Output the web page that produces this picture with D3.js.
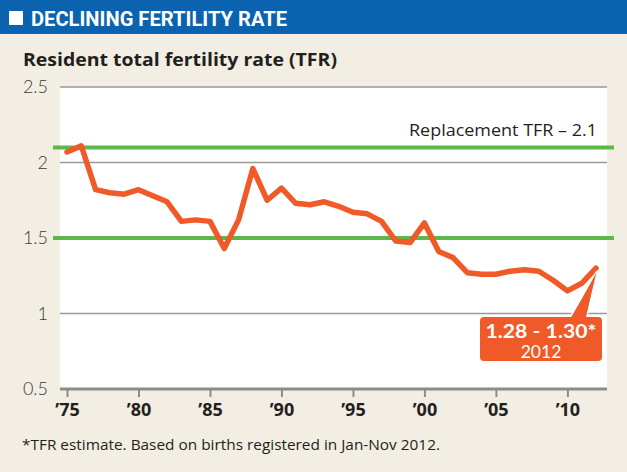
<!DOCTYPE html>
<html><head><meta charset="utf-8">
<script src="https://cdn.jsdelivr.net/npm/d3@7/dist/d3.min.js"></script>
<style>
html,body{margin:0;padding:0;background:#f2eee4;}
svg{display:block;}
</style></head>
<body>
<svg id="chart" width="627" height="472"></svg>
<script>
const years = [1975,1976,1977,1978,1979,1980,1981,1982,1983,1984,1985,1986,1987,1988,1989,1990,1991,1992,1993,1994,1995,1996,1997,1998,1999,2000,2001,2002,2003,2004,2005,2006,2007,2008,2009,2010,2011,2012];
const tfr = [2.07,2.11,1.82,1.80,1.79,1.82,1.78,1.74,1.61,1.62,1.61,1.43,1.62,1.96,1.75,1.83,1.73,1.72,1.74,1.71,1.67,1.66,1.61,1.48,1.47,1.60,1.41,1.37,1.27,1.26,1.26,1.28,1.29,1.28,1.22,1.15,1.20,1.30];
const yTicks = [0.5,1,1.5,2,2.5];
const xTicks = [1975,1980,1985,1990,1995,2000,2005,2010];
const xTickLabels = ["’75","’80","’85","’90","’95","’00","’05","’10"];
const refLines = [2.1,1.5];
const title = "DECLINING FERTILITY RATE";
const subtitle = "Resident total fertility rate (TFR)";
const refLabel = "Replacement TFR – 2.1";
const calloutValue = "1.28 - 1.30*";
const calloutYear = "2012";
const footnote = "*TFR estimate. Based on births registered in Jan-Nov 2012.";

const svg = d3.select("#chart");
const W = 627, H = 472;
const plot = {left:60, right:607, top:87, bottom:389};

const x = d3.scaleLinear().domain([1975,2012]).range([67,596]);
const y = d3.scaleLinear().domain([0.5,2.5]).range([plot.bottom, plot.top]);

svg.append("rect").attr("width",W).attr("height",H).attr("fill","#f2eee4");

// header
svg.append("rect").attr("x",0).attr("y",0).attr("width",W).attr("height",34).attr("fill","#0b63b0");
svg.append("rect").attr("x",9).attr("y",11).attr("width",14).attr("height",14).attr("fill","#fff");
svg.append("text").attr("x",31).attr("y",25.5).text(title)
  .attr("font-family","Roboto, 'DejaVu Sans'").attr("font-weight","bold").attr("font-size",19.5)
  .attr("fill","#fff").attr("textLength",256).attr("lengthAdjust","spacingAndGlyphs");

svg.append("text").attr("x",23).attr("y",66).text(subtitle)
  .attr("font-family","'Open Sans', 'DejaVu Sans'").attr("font-weight","bold").attr("font-size",18.5)
  .attr("fill","#231f1c").attr("textLength",314).attr("lengthAdjust","spacingAndGlyphs");

// plot bg
svg.append("rect").attr("x",plot.left).attr("y",plot.top).attr("width",plot.right-plot.left).attr("height",plot.bottom-plot.top).attr("fill","#fff");

// grid
svg.append("g").selectAll("line").data(yTicks.filter(d=>d>0.5)).join("line")
  .attr("x1",plot.left).attr("x2",plot.right)
  .attr("y1",d=>y(d)).attr("y2",d=>y(d))
  .attr("stroke","#999").attr("stroke-width",1.6);

// y labels
svg.append("g").selectAll("text").data(yTicks).join("text")
  .attr("x",48).attr("y",d=>y(d)+6).attr("text-anchor","end")
  .attr("font-family","Lato, 'Open Sans', sans-serif").attr("font-weight",300).attr("font-size",18)
  .attr("fill","#3a3a3a").text(d=>d3.format("")(d));

// x axis
const xAxis = d3.axisBottom(x).tickValues(xTicks).tickSize(8).tickSizeOuter(0)
  .tickFormat((d,i)=>xTickLabels[i]);
const gx = svg.append("g").attr("transform",`translate(0,${plot.bottom})`).call(xAxis);
gx.select(".domain").remove();
gx.selectAll(".tick line").attr("stroke","#8c8c8c").attr("stroke-width",2);
gx.selectAll(".tick text").attr("dy",0).attr("y",27)
  .attr("font-family","'Open Sans', 'DejaVu Sans'").attr("font-weight","bold").attr("font-size",18)
  .attr("fill","#231f1c");
svg.append("line").attr("x1",plot.left).attr("x2",plot.right)
  .attr("y1",plot.bottom).attr("y2",plot.bottom)
  .attr("stroke","#8c8c8c").attr("stroke-width",3);

// reference lines
svg.append("g").selectAll("line").data(refLines).join("line")
  .attr("x1",53).attr("x2",614).attr("y1",d=>y(d)).attr("y2",d=>y(d))
  .attr("stroke","#5cb848").attr("stroke-width",4);
svg.append("text").attr("x",597).attr("y",y(2.1)-11).attr("text-anchor","end").text(refLabel)
  .attr("font-family","'Open Sans', 'DejaVu Sans'").attr("font-size",16.5).attr("fill","#231f1c")
  .attr("textLength",188).attr("lengthAdjust","spacingAndGlyphs");

// data line
const line = d3.line().x((d,i)=>x(years[i])).y(d=>y(d));
svg.append("path").datum(tfr).attr("d",line).attr("fill","none")
  .attr("stroke","#f05a28").attr("stroke-width",5.5).attr("stroke-linejoin","round").attr("stroke-linecap","round");

// callout
const lastX = x(years[years.length-1]), lastY = y(tfr[tfr.length-1]);
const box = {x:480, y:317, w:122, h:44};
svg.append("path")
  .attr("d",`M${box.x+88},${box.y+4} L${lastX+1},${lastY+3} L${box.x+106},${box.y+4} Z`)
  .attr("fill","#f05a28").attr("stroke","#fff").attr("stroke-width",1.5).attr("stroke-linejoin","round");
svg.append("rect").attr("x",box.x).attr("y",box.y).attr("width",box.w).attr("height",box.h)
  .attr("rx",4).attr("fill","#f05a28");
svg.append("path")
  .attr("d",`M${box.x+89},${box.y+6} L${lastX+0.5},${lastY+4} L${box.x+104},${box.y+6} Z`)
  .attr("fill","#f05a28");
svg.append("text").attr("x",box.x+box.w/2).attr("y",box.y+20.5).attr("text-anchor","middle").text(calloutValue)
  .attr("font-family","Lato, 'Open Sans', sans-serif").attr("font-weight","bold").attr("font-size",18.5).attr("fill","#fff")
  .attr("textLength",111).attr("lengthAdjust","spacingAndGlyphs");
svg.append("text").attr("x",box.x+box.w/2).attr("y",box.y+40.5).attr("text-anchor","middle").text(calloutYear)
  .attr("font-family","Lato, 'Open Sans', sans-serif").attr("font-size",17.5).attr("fill","#fff");

// footnote
svg.append("text").attr("x",22).attr("y",450).text(footnote)
  .attr("font-family","'Open Sans', 'DejaVu Sans'").attr("font-size",14.5).attr("fill","#231f1c")
  .attr("textLength",418).attr("lengthAdjust","spacingAndGlyphs");
</script>
</body></html>
